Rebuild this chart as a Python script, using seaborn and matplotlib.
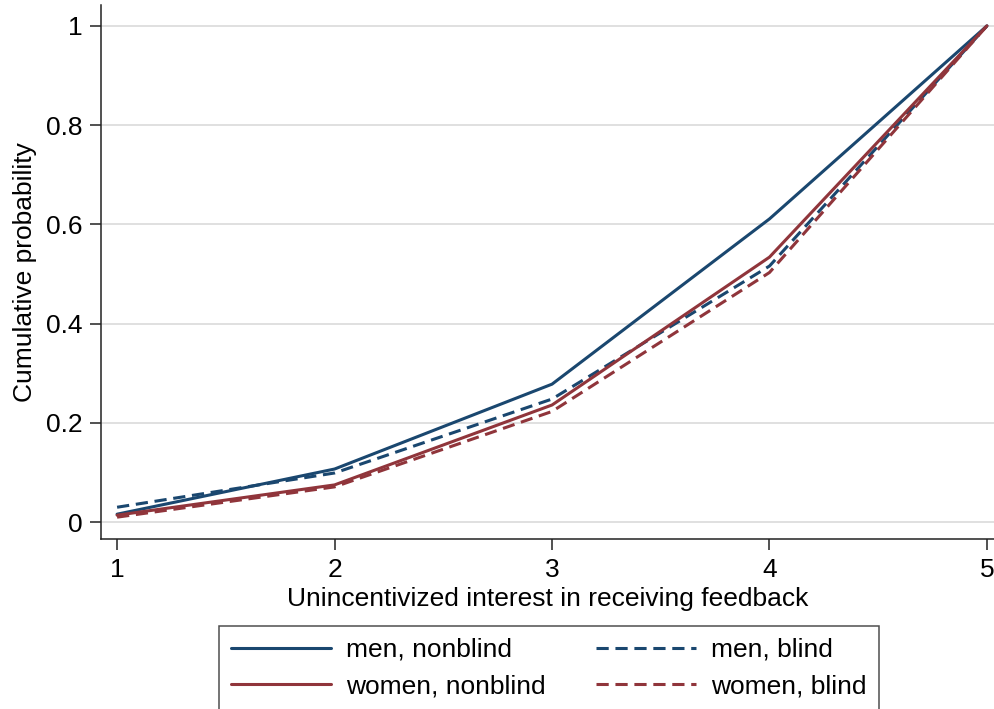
import numpy as np
import pandas as pd
import matplotlib
matplotlib.use("Agg")
import matplotlib.pyplot as plt
import seaborn as sns
from matplotlib.lines import Line2D

interest = [1, 2, 3, 4, 5]
men_nonblind = [0.016, 0.107, 0.278, 0.611, 1.0]
men_blind = [0.030, 0.099, 0.248, 0.516, 1.0]
women_nonblind = [0.014, 0.075, 0.236, 0.534, 1.0]
women_blind = [0.010, 0.071, 0.223, 0.503, 1.0]
series_labels = ["men, nonblind", "men, blind", "women, nonblind", "women, blind"]
yticks = [0, 0.2, 0.4, 0.6, 0.8, 1]
ytick_labels = ["0", "0.2", "0.4", "0.6", "0.8", "1"]

rows = []
for lab, vals in zip(series_labels, [men_nonblind, men_blind, women_nonblind, women_blind]):
    for x, v in zip(interest, vals):
        rows.append({"x": x, "y": v, "series": lab})
df = pd.DataFrame(rows)

sns.set_style("white")
plt.rcParams["font.family"] = ["Liberation Sans", "DejaVu Sans"]
plt.rcParams["text.color"] = "black"
plt.rcParams["axes.labelcolor"] = "black"
plt.rcParams["xtick.color"] = "black"
plt.rcParams["ytick.color"] = "black"

navy = "#1a476f"
maroon = "#90353b"
palette = {"men, nonblind": navy, "men, blind": navy,
           "women, nonblind": maroon, "women, blind": maroon}
dashes = {"men, nonblind": "", "men, blind": (4, 2.2),
          "women, nonblind": "", "women, blind": (4, 2.2)}

FS = 19

fig = plt.figure(figsize=(9.95, 7.09), dpi=100)
ax = fig.add_axes([101/995, 1 - 539/709, 894/995, 534/709])

for y in yticks:
    ax.axhline(y, color="#e0e0e0", lw=1.4, zorder=0)

sns.lineplot(data=df, x="x", y="y", hue="series", style="series",
             palette=palette, dashes=dashes, linewidth=2.2, ax=ax,
             legend=False, zorder=3)

ax.set_xlim(0.926, 5.037)
ax.set_ylim(-0.034, 1.042)
ax.set_xticks(interest)
ax.set_xticklabels([str(i) for i in interest], fontsize=FS)
ax.set_yticks(yticks)
ax.set_yticklabels(ytick_labels, fontsize=FS)
ax.tick_params(axis="both", direction="out", length=8, width=1.1, color="#222222",
               bottom=True, left=True)
ax.tick_params(axis="x", pad=6)
ax.tick_params(axis="y", pad=5)
ax.grid(False)
for s in ["top", "right"]:
    ax.spines[s].set_visible(False)
for s in ["left", "bottom"]:
    ax.spines[s].set_color("#222222")
    ax.spines[s].set_linewidth(1.1)

ax.set_xlabel("Unincentivized interest in receiving feedback", fontsize=FS, labelpad=3)
ax.set_ylabel("Cumulative probability", fontsize=FS, labelpad=7)

handles = [
    Line2D([], [], color=navy, lw=2.2),
    Line2D([], [], color=maroon, lw=2.2),
    Line2D([], [], color=navy, lw=2.2, dashes=(4, 2.2)),
    Line2D([], [], color=maroon, lw=2.2, dashes=(4, 2.2)),
]
labels = ["men, nonblind", "women, nonblind", "men, blind", "women, blind"]
leg = fig.legend(handles, labels, ncol=2, loc="upper left",
                 bbox_to_anchor=(219/995, 1 - 626/709), borderaxespad=0,
                 fontsize=FS, frameon=True, fancybox=False, handlelength=3.8,
                 columnspacing=1.9, handletextpad=0.57, labelspacing=0.46,
                 borderpad=0.45, edgecolor="#222222")
leg.get_frame().set_linewidth(1.1)

fig.savefig("out.png", dpi=100)
